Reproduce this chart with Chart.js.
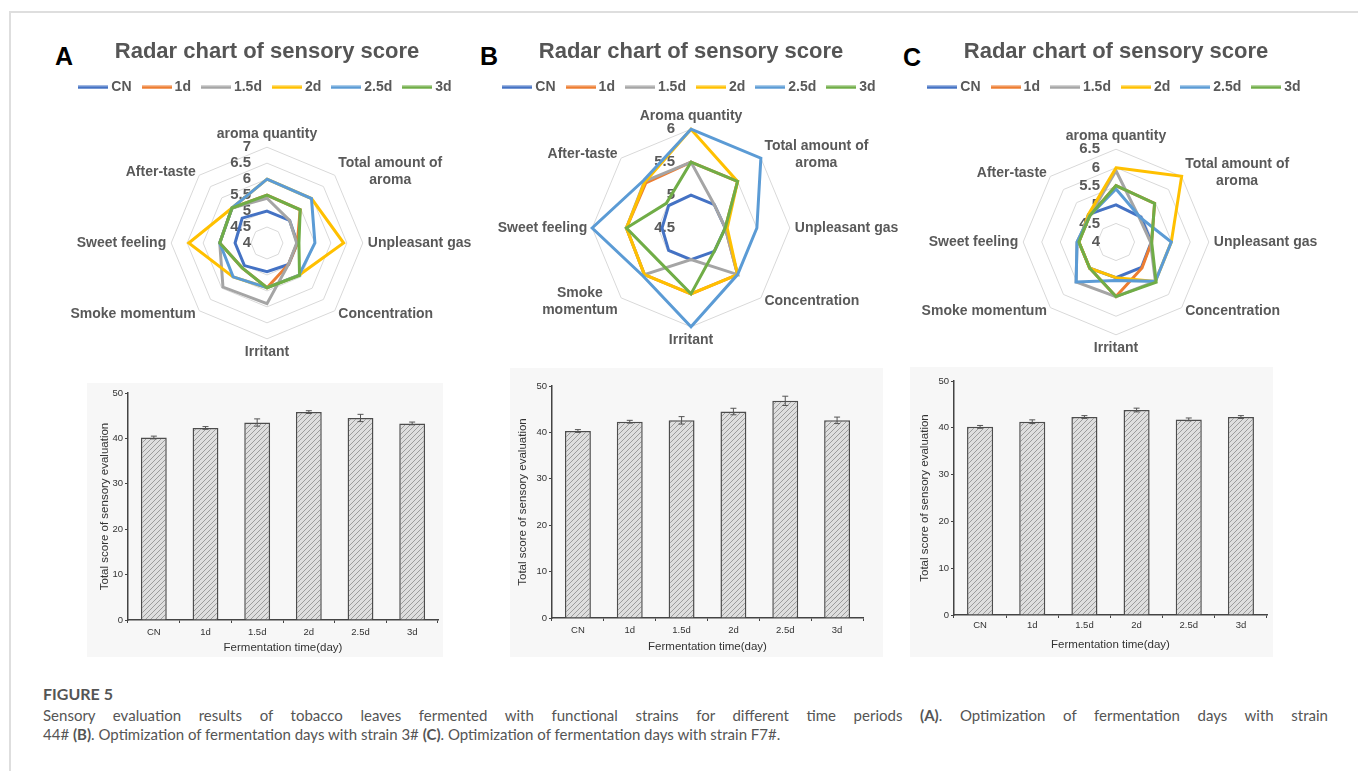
<!DOCTYPE html>
<html>
<head>
<meta charset="utf-8">
<script src="https://cdn.jsdelivr.net/npm/chart.js@4.4.1/dist/chart.umd.min.js"></script>
<style>
  body { margin: 0; width: 1358px; height: 771px; background: #fff; position: relative; overflow: hidden; font-family: "Liberation Sans", Arial, sans-serif; }
  .frame { position: absolute; left: 9px; top: 11px; right: 0; bottom: 0; border-top: 2px solid #dedede; border-left: 2px solid #dedede; }
  .letter { position: absolute; font: bold 25px/25px "Liberation Sans", Arial, sans-serif; color: #000; }
  canvas { position: absolute; }
  .bars { background: #f7f7f7; }
  .caption { position: absolute; left: 43px; top: 682px; width: 1285px; font-family: Lato, "Open Sans", sans-serif; color: #555; font-size: 15px; line-height: 19px; white-space: nowrap; }
  .caption .head { font-weight: 700; font-size: 16px; line-height: 24px; }
  .caption .just { text-align: justify; text-align-last: justify; white-space: normal; }
</style>
</head>
<body>
<div class="frame"></div>

<div class="letter" style="left:55px;top:44px">A</div>
<div class="letter" style="left:480px;top:44px">B</div>
<div class="letter" style="left:903px;top:45px">C</div>

<canvas id="radarA" width="470" height="340" style="left:32px;top:30px"></canvas>
<canvas id="radarB" width="470" height="340" style="left:456px;top:30px"></canvas>
<canvas id="radarC" width="470" height="340" style="left:881px;top:30px"></canvas>

<canvas id="barA" class="bars" width="356" height="274" style="left:87px;top:383px"></canvas>
<canvas id="barB" class="bars" width="373" height="289" style="left:510px;top:368px"></canvas>
<canvas id="barC" class="bars" width="363" height="290" style="left:910px;top:367px"></canvas>

<div class="caption">
  <div class="head">FIGURE 5</div>
  <div class="just">Sensory evaluation results of tobacco leaves fermented with functional strains for different time periods <b>(A)</b>. Optimization of fermentation days with strain</div>
  <div>44# <b>(B)</b>. Optimization of fermentation days with strain 3# <b>(C)</b>. Optimization of fermentation days with strain F7#.</div>
</div>

<script>
// series shared by all radar charts
const series = ['CN', '1d', '1.5d', '2d', '2.5d', '3d'];
const colors = ['#4472C4', '#ED7D31', '#A5A5A5', '#FFC000', '#5B9BD5', '#70AD47'];

// radar axes
const axesA = ['aroma quantity', ['Total amount of', 'aroma'], 'Unpleasant gas', 'Concentration', 'Irritant', 'Smoke momentum', 'Sweet feeling', 'After-taste'];
const axesB = ['Aroma quantity', ['Total amount of', 'aroma'], 'Unpleasant gas', 'Concentration', 'Irritant', ['Smoke', 'momentum'], 'Sweet feeling', 'After-taste'];
const axesC = ['aroma quantity', ['Total amount of', 'aroma'], 'Unpleasant gas', 'Concentration', 'Irritant', 'Smoke momentum', 'Sweet feeling', 'After-taste'];

// radar tick labels
const ticksA = [4, 4.5, 5, 5.5, 6, 6.5, 7];
const ticksB = [4.5, 5, 5.5, 6];
const ticksC = [4, 4.5, 5, 5.5, 6, 6.5];

// panel A scores
const aCN = [5.0, 5.0, 4.95, 4.95, 4.9, 5.0, 5.0, 5.1];
const a1d = [5.5, 5.47, 4.95, 4.95, 5.4, 5.1, 5.48, 5.55];
const a15 = [5.4, 5.0, 4.93, 4.95, 5.9, 5.95, 5.48, 5.55];
const a2 = [6.0, 5.97, 6.4, 5.42, 5.4, 5.5, 6.45, 5.55];
const a25 = [6.0, 5.97, 5.5, 5.42, 5.4, 5.5, 5.48, 5.55];
const a3 = [5.5, 5.47, 5.0, 5.44, 5.4, 5.1, 5.48, 5.55];

// panel B scores
const bCN = [5.0, 5.0, 5.02, 5.0, 4.98, 4.98, 4.94, 4.98];
const b1d = [5.5, 5.5, 5.02, 5.5, 5.5, 5.5, 5.48, 5.47];
const b15 = [5.5, 5.0, 5.02, 5.5, 4.98, 5.5, 5.48, 5.5];
const b2 = [6.0, 5.5, 5.05, 5.5, 5.5, 5.5, 5.48, 5.49];
const b25 = [6.0, 6.0, 5.5, 5.5, 6.0, 5.53, 6.0, 5.52];
const b3 = [5.5, 5.5, 5.02, 5.0, 5.5, 5.2, 5.48, 5.03];

// panel C scores
const cCN = [5.0, 4.95, 4.95, 4.97, 4.96, 5.0, 5.0, 5.05];
const c1d = [5.52, 5.47, 4.96, 4.99, 5.47, 5.0, 5.0, 5.0];
const c15 = [5.92, 4.9, 4.93, 5.5, 5.47, 5.52, 5.05, 5.0];
const c2 = [6.0, 6.5, 5.49, 5.5, 4.96, 5.0, 5.0, 5.05];
const c25 = [5.43, 4.93, 5.49, 5.5, 5.04, 5.52, 5.05, 5.0];
const c3 = [5.52, 5.47, 4.96, 5.53, 5.47, 5.0, 5.0, 5.0];

// bar charts
const barCategories = ['CN', '1d', '1.5d', '2d', '2.5d', '3d'];
const barTicks = [0, 10, 20, 30, 40, 50];
const totalA = [40.2, 42.3, 43.5, 45.8, 44.5, 43.3];
const errA = [0.3, 0.3, 0.8, 0.3, 0.8, 0.3];
const totalB = [40.3, 42.3, 42.6, 44.5, 46.8, 42.6];
const errB = [0.3, 0.3, 0.8, 0.7, 1.0, 0.7];
const totalC = [40.2, 41.3, 42.3, 43.8, 41.8, 42.3];
const errC = [0.3, 0.4, 0.3, 0.4, 0.3, 0.3];

const FONT = '"Liberation Sans", Arial, sans-serif';
Chart.defaults.font.family = FONT;

// short thick line used as legend marker
function legendLine(color) {
  const c = document.createElement('canvas');
  c.width = 30; c.height = 4;
  const x = c.getContext('2d');
  x.fillStyle = color;
  x.fillRect(0, 0.5, 30, 3);
  return c;
}

// diagonal hatch for the bars
function hatch() {
  const c = document.createElement('canvas');
  c.width = 5; c.height = 5;
  const x = c.getContext('2d');
  x.fillStyle = '#dedede';
  x.fillRect(0, 0, 5, 5);
  x.strokeStyle = '#9c9c9c';
  x.lineWidth = 1;
  x.beginPath();
  x.moveTo(0, 5); x.lineTo(5, 0);
  x.moveTo(-1, 1); x.lineTo(1, -1);
  x.moveTo(4, 6); x.lineTo(6, 4);
  x.stroke();
  return x.createPattern(c, 'repeat');
}

// extra room under the legend
const legendGap = {
  id: 'legendGap',
  beforeInit(chart, args, opts) {
    const fit = chart.legend.fit;
    chart.legend.fit = function () {
      fit.call(this);
      this.height += opts.extra || 0;
    };
  }
};

// diagonal point labels centred on their spoke, lines centred, as Excel does
const centerLabels = {
  id: 'centerLabels',
  afterLayout(chart) {
    const items = chart.scales.r._pointLabelItems || [];
    const n = items.length;
    items.forEach((item, i) => {
      const deg = i * 360 / n;
      if (deg % 90 === 0) return;
      const h = item.bottom - item.top;
      const w = item.right - item.left;
      const dy = (deg < 90 || deg > 270) ? h / 2 : -h / 2;
      item.y += dy; item.top += dy; item.bottom += dy;
      item.x = item.left + w / 2;
      item.textAlign = 'center';
    });
  }
};

// tick labels left of the vertical axis
const radarTicks = {
  id: 'radarTicks',
  beforeDatasetsDraw(chart, args, opts) {
    const r = chart.scales.r;
    const ctx = chart.ctx;
    ctx.save();
    ctx.font = 'bold 15px ' + FONT;
    ctx.fillStyle = '#595959';
    ctx.textAlign = 'right';
    ctx.textBaseline = 'middle';
    opts.values.forEach(v => {
      ctx.fillText(String(v), r.xCenter - 16, r.yCenter - r.getDistanceFromCenterForValue(v));
    });
    ctx.restore();
  }
};

const errorBars = {
  id: 'errorBars',
  afterDatasetsDraw(chart, args, opts) {
    const ctx = chart.ctx;
    const y = chart.scales.y;
    const values = chart.data.datasets[0].data;
    ctx.save();
    ctx.strokeStyle = '#555';
    ctx.lineWidth = 1;
    chart.getDatasetMeta(0).data.forEach((bar, i) => {
      const top = y.getPixelForValue(values[i] + opts.errors[i]);
      const bot = y.getPixelForValue(values[i] - opts.errors[i]);
      ctx.beginPath();
      ctx.moveTo(bar.x, top); ctx.lineTo(bar.x, bot);
      ctx.moveTo(bar.x - 3, top); ctx.lineTo(bar.x + 3, top);
      ctx.moveTo(bar.x - 3, bot); ctx.lineTo(bar.x + 3, bot);
      ctx.stroke();
    });
    ctx.restore();
  }
};

function radarChart(id, axes, ticks, rows, extra, padBottom) {
  return new Chart(document.getElementById(id), {
    type: 'radar',
    data: {
      labels: axes,
      datasets: series.map((s, i) => ({
        label: s,
        data: rows[i],
        borderColor: colors[i],
        backgroundColor: 'transparent',
        borderWidth: 3,
        pointRadius: 0,
        pointHoverRadius: 0,
        pointStyle: legendLine(colors[i]),
        fill: false,
        order: series.length - i   // later series drawn on top
      }))
    },
    options: {
      responsive: false,
      animation: false,
      layout: { padding: { bottom: padBottom } },
      plugins: {
        title: {
          display: true,
          text: 'Radar chart of sensory score',
          color: '#555555',
          font: { size: 22, weight: 'bold' },
          padding: { top: 9, bottom: 1 }
        },
        legend: {
          labels: {
            usePointStyle: true,
            pointStyleWidth: 22,
            color: '#595959',
            font: { size: 14, weight: 'bold' },
            padding: 14,
            sort: (a, b) => a.datasetIndex - b.datasetIndex
          }
        },
        tooltip: { enabled: false },
        legendGap: { extra: extra },
        radarTicks: { values: ticks }
      },
      scales: {
        r: {
          min: ticks[0],
          max: ticks[ticks.length - 1],
          ticks: { stepSize: 0.5, display: false },
          angleLines: { display: false },
          grid: { color: '#d9d9d9', lineWidth: 1 },
          pointLabels: { color: '#595959', font: { size: 14, weight: 'bold' }, padding: 5 }
        }
      }
    },
    plugins: [legendGap, centerLabels, radarTicks]
  });
}

function barChart(id, values, errors, box) {
  return new Chart(document.getElementById(id), {
    type: 'bar',
    data: {
      labels: barCategories,
      datasets: [{
        data: values,
        backgroundColor: hatch(),
        borderColor: '#4d4d4d',
        borderWidth: 1.5,
        barPercentage: 0.5,
        categoryPercentage: 1
      }]
    },
    options: {
      responsive: false,
      animation: false,
      layout: { padding: { top: box.top, right: box.right, left: 0, bottom: 0 } },
      plugins: {
        legend: { display: false },
        tooltip: { enabled: false },
        errorBars: { errors: errors }
      },
      scales: {
        x: {
          grid: { drawOnChartArea: false, drawTicks: true, tickLength: 3, color: '#444', offset: true },
          border: { color: '#444', width: 1.5 },
          ticks: { color: '#333', font: { size: 9.5 }, padding: box.xpad },
          title: { display: true, text: 'Fermentation time(day)', color: '#333', font: { size: 11.5 }, padding: { top: 0, bottom: box.xtitle } },
          afterFit: s => { s.height = box.xh; }
        },
        y: {
          min: barTicks[0],
          max: barTicks[barTicks.length - 1],
          grid: { drawOnChartArea: false, drawTicks: true, tickLength: 3, color: '#444' },
          border: { color: '#444', width: 1.5 },
          ticks: { stepSize: barTicks[1] - barTicks[0], color: '#333', font: { size: 9.5 }, padding: 2 },
          title: { display: true, text: 'Total score of sensory evaluation', color: '#333', font: { size: 11.5 }, padding: { top: box.ytitle, bottom: 0 } },
          afterFit: s => { s.width = box.yw; }
        }
      }
    },
    plugins: [errorBars]
  });
}

radarChart('radarA', axesA, ticksA, [aCN, a1d, a15, a2, a25, a3], 21, 9);
radarChart('radarB', axesB, ticksB, [bCN, b1d, b15, b2, b25, b3], 3, 21);
radarChart('radarC', axesC, ticksC, [cCN, c1d, c15, c2, c25, c3], 23, 13);

barChart('barA', totalA, errA, { top: 10, right: 5, yw: 41, xh: 37, xpad: 4, xtitle: 2, ytitle: 11 });
barChart('barB', totalB, errB, { top: 18, right: 20, yw: 42, xh: 39, xpad: 4, xtitle: 3, ytitle: 6 });
barChart('barC', totalC, errC, { top: 14, right: 6, yw: 44, xh: 42, xpad: 2, xtitle: 5, ytitle: 8 });
</script>
</body>
</html>
